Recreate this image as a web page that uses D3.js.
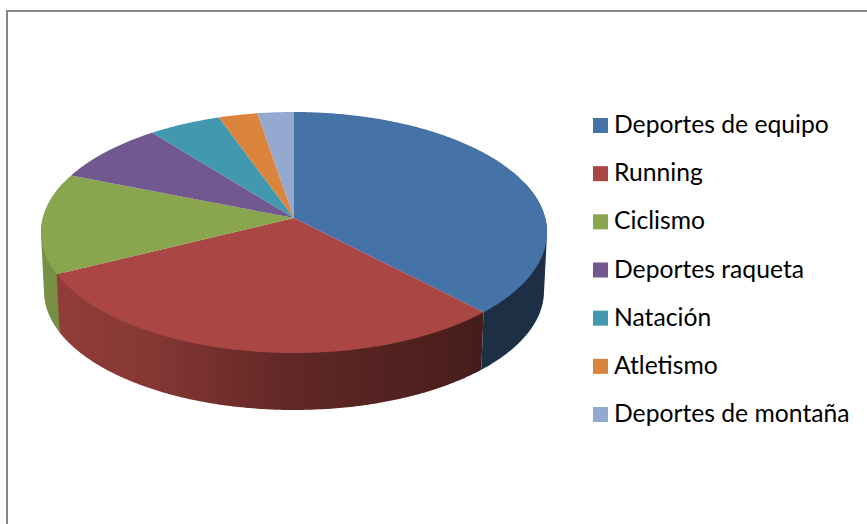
<!DOCTYPE html>
<html>
<head>
<meta charset="utf-8">
<script src="https://cdn.jsdelivr.net/npm/d3@7/dist/d3.min.js"></script>
<style>
  html, body { margin: 0; padding: 0; background: #fff; overflow: hidden; }
  svg { display: block; }
  text { font-family: Lato, "Open Sans", sans-serif; font-size: 24.7px; fill: #000; }
</style>
</head>
<body>
<svg id="chart" width="867" height="524"></svg>
<script>
const categories = ["Deportes de equipo", "Running", "Ciclismo", "Deportes raqueta", "Natación", "Atletismo", "Deportes de montaña"];
const shares = [37.9, 29.7, 13.5, 8.3, 5.2, 2.8, 2.6];
const colors = ["#4572A7", "#AA4643", "#89A54E", "#71588F", "#4198AF", "#DB843D", "#93A9CF"];

const svg = d3.select("#chart");
const defs = svg.append("defs");

// Outer chart frame, open past the right and bottom of the page
svg.append("rect")
  .attr("x", 7).attr("y", 11).attr("width", 900).attr("height", 600)
  .attr("fill", "#fff").attr("stroke", "#868686").attr("stroke-width", 2);

// Tilted disc: the ellipse is a projective view of a circle, so the hub sits above its centre
const tilt = -0.12;
const topX = d3.scaleLinear([-1, 1], [41, 547]);
const topY = d3.scaleLinear([-1, 1], [112, 353]);
const baseX = d3.scaleLinear([-1, 1], [44, 544]);
const baseY = d3.scaleLinear([-1, 1], [172, 410]);

function project(angle) {
  const x = Math.sin(angle), y = -Math.cos(angle);
  const d = 1 + tilt * y;
  return [x * Math.sqrt(1 - tilt * tilt) / d, (y + tilt) / d];
}
const rim = (angle, sx, sy) => { const [u, v] = project(angle); return [sx(u), sy(v)]; };
const hub = [topX(0), topY(tilt)];

const arcs = d3.pie().sort(null).value(d => d)(shares);
const line = d3.line();
const samples = (a0, a1, step) => {
  const n = Math.max(1, Math.ceil((a1 - a0) / step));
  return d3.range(n + 1).map(i => a0 + (a1 - a0) * i / n);
};

// Wall brightness falls off from the left of the disc to the right
const lightX = [44, 150, 290, 480, 544];
const lightK = [0.87, 0.78, 0.57, 0.41, 0.41];
const shade = (c, k) => { const o = d3.rgb(c); return d3.rgb(o.r * k, o.g * k, o.b * k).formatHex(); };

colors.forEach((c, i) => {
  const g = defs.append("linearGradient")
    .attr("id", `wall-${i}`).attr("gradientUnits", "userSpaceOnUse")
    .attr("x1", lightX[0]).attr("x2", lightX[lightX.length - 1]).attr("y1", 0).attr("y2", 0);
  lightX.forEach((x, j) => {
    g.append("stop")
      .attr("offset", (x - lightX[0]) / (lightX[lightX.length - 1] - lightX[0]))
      .attr("stop-color", shade(c, lightK[j]));
  });
});

// Side wall of each slice: the hull of its stretch of top and bottom rim,
// which gives straight tangent edges at the disc's left and right extremes.
// Painted back to front so the slice nearest the viewer ends up on top.
const wall = svg.append("g");
const nearness = a => Math.abs((a.startAngle + a.endAngle) / 2 - Math.PI);
arcs.map((a, i) => ({ a, i }))
  .sort((p, q) => nearness(q.a) - nearness(p.a))
  .forEach(({ a, i }) => {
    const start = Math.max(a.startAngle, Math.PI * 0.4);
    const end = Math.min(a.endAngle, Math.PI * 1.6);
    if (end <= start) return;
    const steps = samples(start, end, 0.01);
    const hull = d3.polygonHull([...steps.map(t => rim(t, topX, topY)), ...steps.map(t => rim(t, baseX, baseY))]);
    wall.append("path")
      .attr("d", line(hull) + "Z")
      .attr("fill", `url(#wall-${i})`);
  });

// Top face of the disc
svg.append("g").selectAll("path").data(arcs).join("path")
  .attr("d", a => line([hub, ...samples(a.startAngle, a.endAngle, 0.01).map(t => rim(t, topX, topY))]) + "Z")
  .attr("fill", (a, i) => colors[i]);

// Legend
const rowY = d3.scalePoint(categories, [125.5, 414.5]);
const legend = svg.append("g").selectAll("g").data(categories).join("g")
  .attr("transform", d => `translate(593,${rowY(d)})`);
legend.append("rect")
  .attr("x", 0).attr("y", -7.5).attr("width", 15).attr("height", 15)
  .attr("fill", (d, i) => colors[i]);
legend.append("text")
  .attr("x", 21).attr("y", 7.5).text(d => d);
</script>
</body>
</html>
